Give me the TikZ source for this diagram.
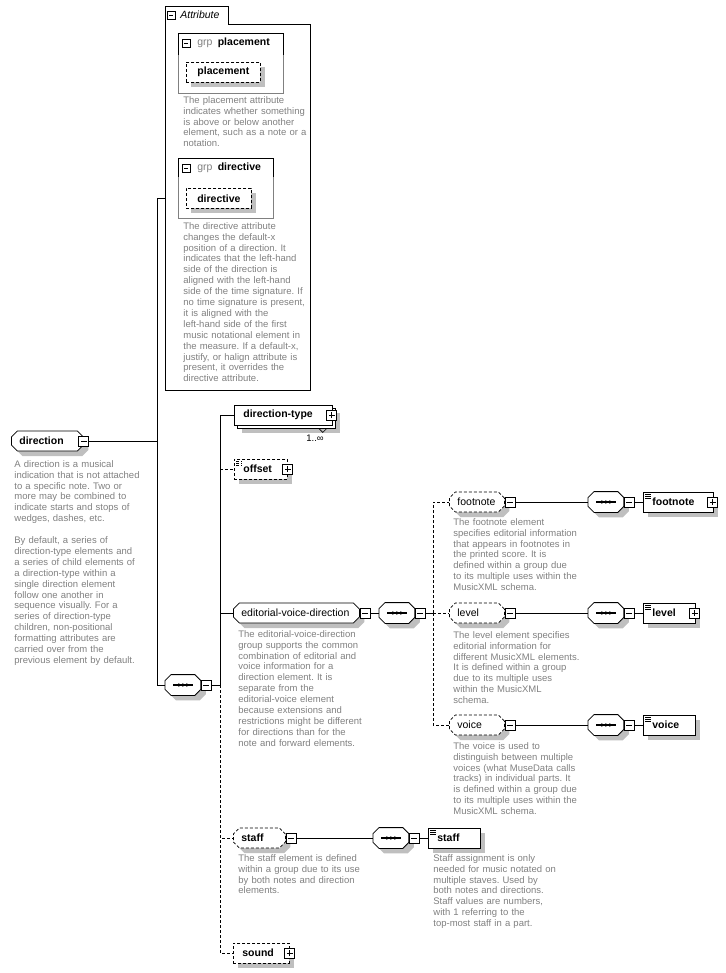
\documentclass[tikz,border=0pt]{standalone}
\usepackage{fontspec}
\setmainfont{Liberation Sans}
\usetikzlibrary{shapes.misc,shadows}

\newcommand{\namefont}{\fontsize{10.5}{12}\selectfont}
\newcommand{\notefont}{\fontsize{9.5}{10.9}\selectfont}
% octagon round a node, shifted by (#2,#3)
\newcommand{\octpath}[3]{([shift={(6+#2,#3)}]#1.north west) -- ([shift={(-6+#2,#3)}]#1.north east)
  -- ([shift={(#2,6+#3)}]#1.north east) -- ([shift={(#2,-6+#3)}]#1.south east)
  -- ([shift={(-6+#2,#3)}]#1.south east) -- ([shift={(6+#2,#3)}]#1.south west)
  -- ([shift={(#2,-6+#3)}]#1.south west) -- ([shift={(#2,6+#3)}]#1.north west) -- cycle}

\tikzset{
  shade/.style={drop shadow={shadow xshift=#1,shadow yshift=-#1,fill=black!25,opacity=1}},
  shade/.default=5pt,
  opt/.style={dash pattern=on 3pt off 2pt},
  box/.style={draw,fill=white,anchor=west,minimum height=20pt,inner ysep=0pt,align=left},
  elem/.style={box,shade,inner xsep=9pt,text width=#1,font=\namefont\bfseries},
  multi/.style={box,shade=8pt,copy shadow={shadow xshift=3pt,shadow yshift=-3pt,fill=white,draw=black},
    inner xsep=9pt,text width=#1,font=\namefont\bfseries},
  grp/.style={box,chamfered rectangle,chamfered rectangle xsep=3pt,chamfered rectangle ysep=3pt,
    shade,inner xsep=5pt,text width=#1,font=\namefont},
  seq/.style={anchor=west,minimum width=35pt,minimum height=20pt,inner sep=0pt,
    append after command={\pgfextra{
      \fill[black!25] \octpath{\tikzlastnode}{5}{5};
      \draw[fill=white] \octpath{\tikzlastnode}{0}{0};
      \draw[line width=1.2pt] ([xshift=8]\tikzlastnode.west) -- ([xshift=-8]\tikzlastnode.east);
      \foreach \d in {-4,0,4} \fill ([xshift=\d]\tikzlastnode.center) circle (1.8pt);
    }}},
  simple/.style={path picture={
      \foreach \k in {2,4,6} \draw[line width=.6pt] ([xshift=2,yshift={-\k}]path picture bounding box.north west) -- ++(6,0);
    }},
  tog/.style={draw,fill=white,minimum size=10pt,inner sep=0pt},
  minus/.style={tog,path picture={
      \draw ([xshift=2]path picture bounding box.west) -- ([xshift=-2]path picture bounding box.east);}},
  plus/.style={tog,path picture={
      \draw ([xshift=2]path picture bounding box.west) -- ([xshift=-2]path picture bounding box.east);
      \draw ([yshift=2]path picture bounding box.south) -- ([yshift=-2]path picture bounding box.north);}},
  note/.style={anchor=north west,inner sep=0pt,text width=170pt,align=left,text=black!50,font=\notefont},
}

\begin{document}
\frenchspacing
\begin{tikzpicture}[x=1pt,y=-1pt,line width=0.8pt]
  \useasboundingbox (0,0) rectangle (725,973);

  % attribute container
  \draw (165,390) -- (165,6) -- (228,6) -- (228,24) -- (310,24) -- (310,390) -- cycle;
  \node[minus,minimum size=8pt] (attrm) at (171,15) {};
  \node[anchor=west,inner sep=0pt,font=\namefont\itshape] (attrt) at (180,15) {Attribute};
  \coordinate (attrin) at (165,198);

  % grp placement
  \draw[draw=black!50] (178,33) rectangle (283,93);
  \draw (178,55) |- (283,33) -- (283,55);
  \node[minus,minimum size=8pt] (plm) at (186,43) {};
  \node[anchor=west,inner sep=0pt,font=\namefont] (plt) at (197,43) {\textcolor{black!50}{grp}\enspace\textbf{placement}};
  \node[box,opt,shade,inner xsep=2pt,text width=70pt,align=center,font=\namefont\bfseries] (placement) at (186,72) {placement};
  \node[note] (plnote) at (183,96) {The placement attribute\\indicates whether something\\is above or below another\\element, such as a note or a\\notation.};

  % grp directive
  \draw[draw=black!50] (178,158) rectangle (273,218);
  \draw (178,177) |- (273,158) -- (273,177);
  \node[minus,minimum size=8pt] (dim) at (186,168) {};
  \node[anchor=west,inner sep=0pt,font=\namefont] (dit) at (197,168) {\textcolor{black!50}{grp}\enspace\textbf{directive}};
  \node[box,opt,shade,inner xsep=2pt,text width=61pt,align=center,font=\namefont\bfseries] (directive) at (186,198.5) {directive};
  \node[note] (dinote) at (183,222) {The directive attribute\\changes the default-x\\position of a direction. It\\indicates that the left-hand\\side of the direction is\\aligned with the left-hand\\side of the time signature. If\\no time signature is present,\\it is aligned with the\\left-hand side of the first\\music notational element in\\the measure. If a default-x,\\justify, or halign attribute is\\present, it overrides the\\directive attribute.};

  % root
  \node[grp=56,font=\namefont\bfseries] (direction) at (11,441) {direction};
  \node[minus] (dm) at (direction.east) {};
  \node[note] (dnote) at (14,460) {A direction is a musical\\indication that is not attached\\to a specific note. Two or\\more may be combined to\\indicate starts and stops of\\wedges, dashes, etc.\\[10.9pt]By default, a series of\\direction-type elements and\\a series of child elements of\\a direction-type within a\\single direction element\\follow one another in\\sequence visually. For a\\series of direction-type\\children, non-positional\\formatting attributes are\\carried over from the\\previous element by default.};

  % main sequence
  \node[seq] (sq0) at (165,685) {};
  \node[minus,anchor=west] (sq0m) at (sq0.east) {};
  \coordinate (bus0) at (220,685);

  \node[multi=80] (dtype) at (234,415) {direction-type};
  \node[plus] (dtypep) at ([xshift=-1]dtype.east) {};
  \draw[line width=.6pt] ([xshift=-14,yshift=-3]dtype.south east) -- ++(4,4) -- ++(4,-4);
  \node[inner sep=0pt,font=\notefont] (dtypeocc) at (315,438) {1..∞};

  \node[elem=35,opt,simple] (offset) at (234,469) {offset};
  \node[plus] (offp) at (offset.east) {};

  \node[grp=110] (evd) at (233,613) {editorial-voice-direction};
  \node[minus,anchor=west] (evdm) at (evd.east) {};
  \node[note] (evdnote) at (238,630) {The editorial-voice-direction\\group supports the common\\combination of editorial and\\voice information for a\\direction element. It is\\separate from the\\editorial-voice element\\because extensions and\\restrictions might be different\\for directions than for the\\note and forward elements.};

  \node[seq] (sq1) at (379,613) {};
  \node[minus,anchor=west] (sq1m) at (sq1.east) {};
  \coordinate (bus1) at (433,613);

  % footnote, level, voice
  \foreach \nm/\y/\w/\p [count=\i] in {footnote/502/52/1, level/613/34/1, voice/725/34/0}{
    \node[grp=39,opt] (g\i) at (449,\y) {\nm};
    \node[minus,anchor=west] (g\i m) at (g\i.east) {};
    \node[seq] (s\i) at (588,\y) {};
    \node[minus,anchor=west] (s\i m) at (s\i.east) {};
    \node[elem=\w,simple] (e\i) at (643,\y) {\nm};
    \ifnum\p=1 \node[plus] (e\i p) at ([xshift=-1]e\i.east) {}; \fi
    \draw (g\i m.east) -- (s\i.west);
    \draw (s\i m.east) -- (e\i.west);
    \draw[opt] (bus1) |- (g\i.west);
  }
  \node[note] (fnnote) at (453,518) {The footnote element\\specifies editorial information\\that appears in footnotes in\\the printed score. It is\\defined within a group due\\to its multiple uses within the\\MusicXML schema.};
  \node[note] (lvnote) at (453,631) {The level element specifies\\editorial information for\\different MusicXML elements.\\It is defined within a group\\due to its multiple uses\\within the MusicXML\\schema.};
  \node[note] (vcnote) at (453,742) {The voice is used to\\distinguish between multiple\\voices (what MuseData calls\\tracks) in individual parts. It\\is defined within a group due\\to its multiple uses within the\\MusicXML schema.};

  % staff
  \node[grp=36,opt,font=\namefont\bfseries] (staff) at (233,838) {staff};
  \node[minus,anchor=west] (staffm) at (staff.east) {};
  \node[seq] (ssq) at (373,838) {};
  \node[minus,anchor=west] (ssqm) at (ssq.east) {};
  \node[elem=34,simple] (se) at (428,838) {staff};
  \node[note] (stnote) at (238,854) {The staff element is defined\\within a group due to its use\\by both notes and direction\\elements.};
  \node[note] (senote) at (433,854) {Staff assignment is only\\needed for music notated on\\multiple staves. Used by\\both notes and directions.\\Staff values are numbers,\\with 1 referring to the\\top-most staff in a part.};

  % sound
  \node[elem=38,opt] (sound) at (233,953) {sound};
  \node[plus] (soundp) at (sound.east) {};

  % connectors
  \draw (dm.east) -- ++(68,0) |- (attrin);
  \draw (dm.east) -- ++(68,0) |- (sq0.west);
  \draw (sq0m.east) -- (bus0);
  \draw (bus0) |- (dtype.west);
  \draw (bus0) |- (evd.west);
  \draw[opt] (bus0 |- offset.west) -- (offset.west);
  \draw[opt] (bus0) |- (staff.west);
  \draw[opt] (bus0) |- (sound.west);
  \draw (evdm.east) -- (sq1.west);
  \draw (sq1m.east) -- (bus1);
  \draw (staffm.east) -- (ssq.west);
  \draw (ssqm.east) -- (se.west);
\end{tikzpicture}
\end{document}
